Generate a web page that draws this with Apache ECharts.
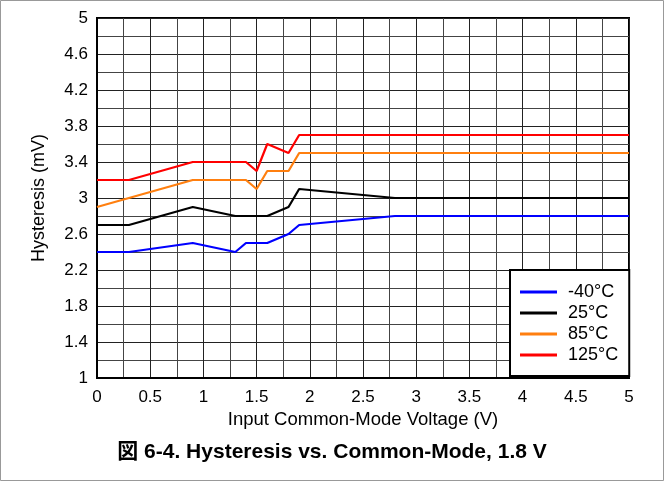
<!DOCTYPE html>
<html><head><meta charset="utf-8">
<script src="https://cdn.jsdelivr.net/npm/echarts@6/dist/echarts.min.js"></script>
<style>html,body{margin:0;padding:0;background:#fff}#c{width:664px;height:481px}</style>
</head><body><div id="c"></div>
<script>
const seriesNames = ['-40°C', '25°C', '85°C', '125°C'];
const colors = ['#0000FF', '#000000', '#FF7F0F', '#FF0000'];
const xM40 = [0, 0.3, 0.9, 1.3, 1.4, 1.6, 1.8, 1.9, 2.8, 5];
const yM40 = [2.4, 2.4, 2.5, 2.4, 2.5, 2.5, 2.6, 2.7, 2.8, 2.8];
const x25 = [0, 0.3, 0.9, 1.3, 1.6, 1.8, 1.9, 2.8, 5];
const y25 = [2.7, 2.7, 2.9, 2.8, 2.8, 2.9, 3.1, 3.0, 3.0];
const x85 = [0, 0.9, 1.4, 1.5, 1.6, 1.8, 1.9, 5];
const y85 = [2.9, 3.2, 3.2, 3.1, 3.3, 3.3, 3.5, 3.5];
const x125 = [0, 0.3, 0.9, 1.4, 1.5, 1.6, 1.8, 1.9, 5];
const y125 = [3.2, 3.2, 3.4, 3.4, 3.3, 3.6, 3.5, 3.7, 3.7];
const xs = [xM40, x25, x85, x125];
const ys = [yM40, y25, y85, y125];
const font = 'Liberation Sans, Arial, "Noto Sans CJK JP", sans-serif';

const chart = echarts.init(document.getElementById('c'), null, {renderer: 'canvas'});
chart.setOption({
  animation: false,
  backgroundColor: '#fff',
  textStyle: {fontFamily: font},
  title: {
    text: '図 6-4. Hysteresis vs. Common-Mode, 1.8 V',
    left: 'center', top: 437,
    textStyle: {fontFamily: font, fontSize: 21, fontWeight: 'bold', color: '#000'}
  },
  graphic: [{
    type: 'rect', shape: {x: 0.5, y: 0.5, width: 663, height: 480},
    style: {fill: 'none', stroke: '#999', lineWidth: 1}, silent: true, z: -1
  }],
  grid: {left: 97, right: 35, top: 18, bottom: 103, show: true, borderColor: '#000', borderWidth: 2, containLabel: false},
  xAxis: {
    type: 'value', min: 0, max: 5, interval: 0.5,
    name: 'Input Common-Mode Voltage (V)', nameLocation: 'middle', nameGap: 30,
    nameTextStyle: {fontSize: 18.5, color: '#000', fontFamily: font},
    axisLine: {show: true, lineStyle: {color: '#000', width: 2}},
    axisTick: {show: false},
    axisLabel: {fontSize: 17, color: '#000', margin: 11, fontFamily: font},
    splitLine: {show: true, lineStyle: {color: '#222', width: 1}},
    minorTick: {show: false, splitNumber: 2},
    minorSplitLine: {show: true, lineStyle: {color: '#444', width: 1}}
  },
  yAxis: {
    type: 'value', min: 1, max: 5, interval: 0.4,
    name: 'Hysteresis (mV)', nameLocation: 'middle', nameGap: 49,
    nameTextStyle: {fontSize: 18, color: '#000', fontFamily: font},
    axisLine: {show: true, lineStyle: {color: '#000', width: 2}},
    axisTick: {show: false},
    axisLabel: {fontSize: 17, color: '#000', margin: 9, fontFamily: font},
    splitLine: {show: true, lineStyle: {color: '#222', width: 1}},
    minorTick: {show: false, splitNumber: 2},
    minorSplitLine: {show: true, lineStyle: {color: '#444', width: 1}}
  },
  legend: {
    orient: 'vertical', left: 510, top: 270,
    data: seriesNames,
    icon: 'rect', itemWidth: 37, itemHeight: 3, itemGap: 3,
    padding: [13, 11, 12, 10],
    backgroundColor: '#fff', borderColor: '#000', borderWidth: 2, borderRadius: 0,
    textStyle: {fontSize: 18, color: '#000', fontFamily: font, padding: [0, 0, 0, 6]}
  },
  series: seriesNames.map((n, i) => ({
    name: n, type: 'line', symbol: 'none', color: colors[i],
    lineStyle: {width: 2.2, color: colors[i]},
    data: xs[i].map((x, j) => [x, ys[i][j]]),
    z: 3
  }))
});
</script></body></html>
